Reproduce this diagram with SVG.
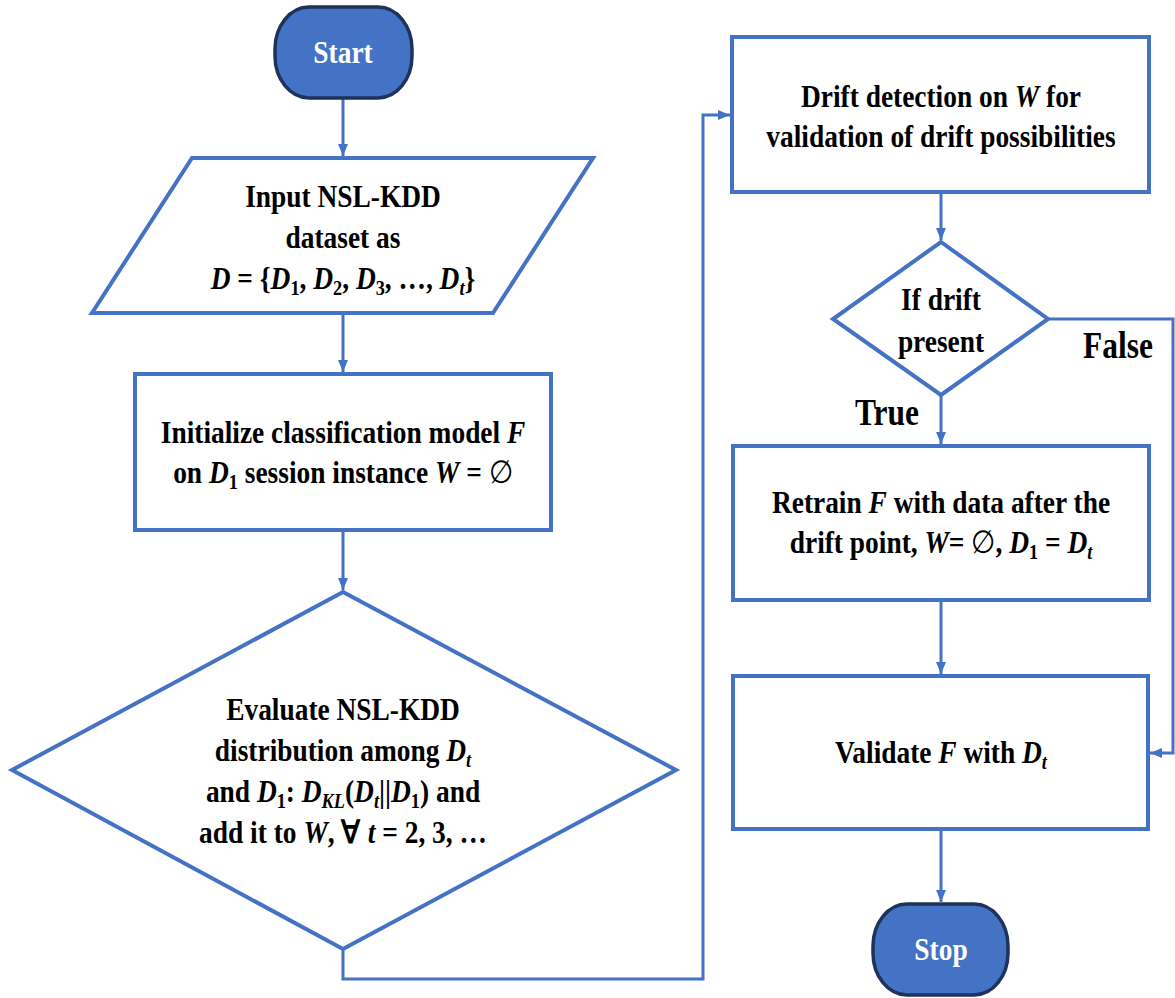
<svg xmlns="http://www.w3.org/2000/svg" width="1175" height="998" viewBox="0 0 1175 998">
<style>
.box{fill:#fff;stroke:#4472C4;stroke-width:4}
.term{fill:#4472C4;stroke:#1F3259;stroke-width:3.5}
.con{fill:none;stroke:#4472C4;stroke-width:3}
.t{font-family:"Liberation Serif","Times New Roman",serif;font-weight:bold;font-size:31.5px;text-anchor:middle;fill:#000}
.w{fill:#fff}
.m{font-style:italic}
.s{font-size:21px}
.e{font-weight:normal}
.lbl{font-size:37px}
</style>
<defs>
<marker id="ah" viewBox="0 0 12 10" refX="12" refY="5" markerWidth="12" markerHeight="10" markerUnits="userSpaceOnUse" orient="auto">
<path d="M0,0 L12,5 L0,10 z" fill="#4472C4"/>
</marker>
</defs>

<g id="connectors">
<path class="con" d="M343,98 V156" marker-end="url(#ah)"/>
<path class="con" d="M343,313 V372" marker-end="url(#ah)"/>
<path class="con" d="M343,530 V590" marker-end="url(#ah)"/>
<path class="con" d="M343,949 V979 H703 V115 H730" marker-end="url(#ah)"/>
<path class="con" d="M941,192 V240" marker-end="url(#ah)"/>
<path class="con" d="M941,395 V444" marker-end="url(#ah)"/>
<path class="con" d="M1048,319 H1173 V753 H1150" marker-end="url(#ah)"/>
<path class="con" d="M941,600 V674" marker-end="url(#ah)"/>
<path class="con" d="M941,829 V902" marker-end="url(#ah)"/>
<text class="t lbl" x="0" y="425" transform="translate(887 0) scale(0.85 1)">True</text>
<text class="t lbl" x="0" y="358" transform="translate(1118 0) scale(0.85 1)">False</text>
</g>

<g id="start">
<rect class="term" x="275" y="7" width="137" height="91" rx="34" ry="42"/>
<text class="t w" x="0" y="63" transform="translate(343 0) scale(0.87 1)">Start</text>
</g>

<g id="input">
<polygon class="box" points="192,158 593,158 493,313 92,313"/>
<text class="t" x="0" y="207" transform="translate(343 0) scale(0.87 1)">Input NSL-KDD</text>
<text class="t" x="0" y="248" transform="translate(343 0) scale(0.87 1)">dataset as</text>
<text class="t" x="0" y="289" transform="translate(343 0) scale(0.87 1)"><tspan class="m">D</tspan> = {<tspan class="m">D</tspan><tspan class="s" dy="6">1</tspan><tspan dy="-6">, </tspan><tspan class="m">D</tspan><tspan class="s" dy="6">2</tspan><tspan dy="-6">, </tspan><tspan class="m">D</tspan><tspan class="s" dy="6">3</tspan><tspan dy="-6">, …, </tspan><tspan class="m">D</tspan><tspan class="s m" dy="6">t</tspan><tspan dy="-6">}</tspan></text>
</g>

<g id="init">
<rect class="box" x="135" y="374" width="416" height="156"/>
<text class="t" x="0" y="443" transform="translate(343 0) scale(0.87 1)">Initialize classification model <tspan class="m">F</tspan></text>
<text class="t" x="0" y="483" transform="translate(343 0) scale(0.87 1)">on <tspan class="m">D</tspan><tspan class="s" dy="6">1</tspan><tspan dy="-6"> session instance </tspan><tspan class="m">W</tspan> = <tspan class="e">∅</tspan></text>
</g>

<g id="evaluate">
<polygon class="box" points="343,592 676,770 343,949 12,770"/>
<text class="t" x="0" y="720" transform="translate(343 0) scale(0.87 1)">Evaluate NSL-KDD</text>
<text class="t" x="0" y="761" transform="translate(343 0) scale(0.87 1)">distribution among <tspan class="m">D</tspan><tspan class="s m" dy="6">t</tspan></text>
<text class="t" x="0" y="802" transform="translate(343 0) scale(0.87 1)">and <tspan class="m">D</tspan><tspan class="s" dy="6">1</tspan><tspan dy="-6">: </tspan><tspan class="m">D</tspan><tspan class="s m" dy="6">KL</tspan><tspan dy="-6">(</tspan><tspan class="m">D</tspan><tspan class="s m" dy="6">t</tspan><tspan dy="-6">||</tspan><tspan class="m">D</tspan><tspan class="s" dy="6">1</tspan><tspan dy="-6">) and</tspan></text>
<text class="t" x="0" y="843" transform="translate(343 0) scale(0.87 1)">add it to <tspan class="m">W</tspan>, ∀ <tspan class="m">t</tspan> = 2, 3, …</text>
</g>

<g id="drift">
<rect class="box" x="732" y="37" width="417" height="155"/>
<text class="t" x="0" y="107" transform="translate(941 0) scale(0.87 1)">Drift detection on <tspan class="m">W</tspan> for</text>
<text class="t" x="0" y="147" transform="translate(941 0) scale(0.87 1)">validation of drift possibilities</text>
</g>

<g id="decision">
<polygon class="box" points="941,242 1048,319 941,395 833,319"/>
<text class="t" x="0" y="310" transform="translate(941 0) scale(0.87 1)">If drift</text>
<text class="t" x="0" y="352" transform="translate(941 0) scale(0.87 1)">present</text>
</g>

<g id="retrain">
<rect class="box" x="733" y="446" width="416" height="154"/>
<text class="t" x="0" y="513" transform="translate(941 0) scale(0.87 1)">Retrain <tspan class="m">F</tspan> with data after the</text>
<text class="t" x="0" y="553" transform="translate(941 0) scale(0.87 1)">drift point, <tspan class="m">W</tspan>= <tspan class="e">∅</tspan>, <tspan class="m">D</tspan><tspan class="s" dy="6">1</tspan><tspan dy="-6"> = </tspan><tspan class="m">D</tspan><tspan class="s m" dy="6">t</tspan></text>
</g>

<g id="validate">
<rect class="box" x="733" y="676" width="415" height="153"/>
<text class="t" x="0" y="763" transform="translate(941 0) scale(0.87 1)">Validate <tspan class="m">F</tspan> with <tspan class="m">D</tspan><tspan class="s m" dy="6">t</tspan></text>
</g>

<g id="stop">
<rect class="term" x="873" y="904" width="135" height="91" rx="34" ry="42"/>
<text class="t w" x="0" y="960" transform="translate(941 0) scale(0.87 1)">Stop</text>
</g>
</svg>
